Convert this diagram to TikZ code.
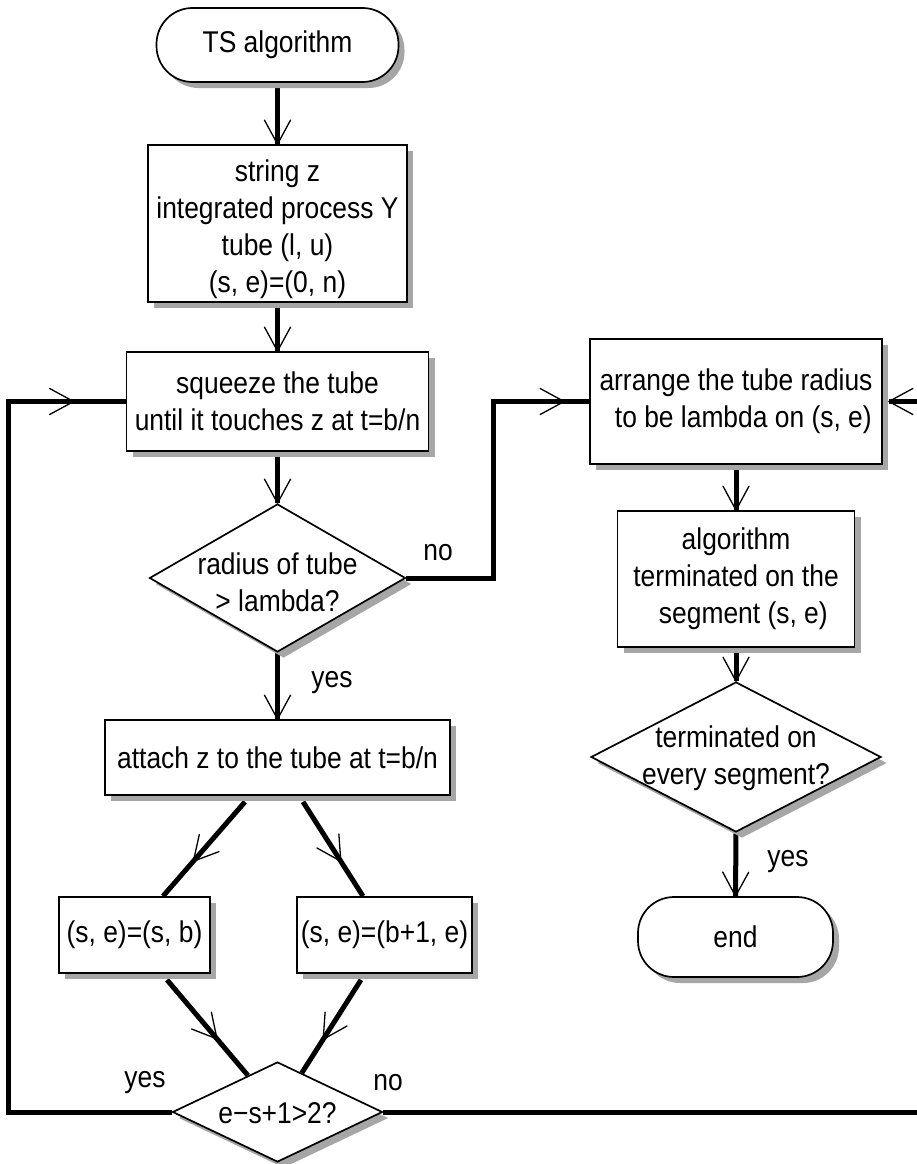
\documentclass[tikz,border=0pt]{standalone}
\usepackage{fontspec}
\setmainfont{Liberation Sans}[FakeStretch=0.88]
\usetikzlibrary{shapes.geometric,shadows,decorations.markings,calc}
\pgfdeclarelayer{background}
\pgfsetlayers{background,main}
\tikzset{
  shade box/.style={drop shadow={shadow xshift=6pt,shadow yshift=-6pt,fill=black!35,opacity=1}},
  procbox/.style={draw,line width=1.7pt,fill=white,rectangle,inner sep=0pt,align=center,shade box},
  termbox/.style={procbox,rounded corners=36pt},
  decbox/.style={draw,line width=1.7pt,fill=white,diamond,inner sep=0pt,shade box},
  lbl/.style={inner sep=0pt,align=center},
  flow/.style={line width=5pt},
  tip at/.style={postaction={decorate},decoration={markings,
    mark=at position #1 with {\draw[line width=1.3pt,line cap=round,line join=round]
      (-24pt,13pt) -- (0pt,0pt) -- (-24pt,-13pt);}}},
}
\begin{document}
\begin{tikzpicture}[x=1pt,y=-1pt,font=\fontsize{30pt}{37pt}\selectfont]
\useasboundingbox (0,0) rectangle (917,1164);

% left column
\node[termbox,minimum width=242pt,minimum height=74pt] (start) at (277.5,45) {TS algorithm};
\node[procbox,minimum width=259pt,minimum height=157pt] (init) at (277.5,223.5) {};
\node[lbl] (initt) at (277.5,229) {string z\\integrated process Y\\tube (l, u)\\(s, e)=(0, n)};
\node[procbox,minimum width=302pt,minimum height=99pt] (squeeze) at (277.5,401.5)
  {squeeze the tube\\until it touches z at t=b/n};
\node[decbox,minimum width=256pt,minimum height=148pt] (radius) at (277.5,578) {};
\node[lbl] (radiust) at (277.5,582) {radius of tube\\> lambda?};
\node[procbox,minimum width=345pt,minimum height=75pt] (attach) at (277.5,757.5)
  {attach z to the tube at t=b/n};
\node[procbox,minimum width=151pt,minimum height=76pt] (left) at (134.5,935) {(s, e)=(s, b)};
\node[procbox,minimum width=175pt,minimum height=76pt] (right) at (384.5,935) {(s, e)=(b+1, e)};
\node[decbox,minimum width=210pt,minimum height=100pt] (len) at (277.5,1112) {};
\node[lbl] (lent) at (277.5,1113) {e−s+1>2?};

% right column
\node[procbox,minimum width=292pt,minimum height=125pt] (arrange) at (736,401.5)
  {arrange the tube radius\\\ \ to be lambda on (s, e)};
\node[procbox,minimum width=237pt,minimum height=136pt] (term) at (736,579)
  {algorithm\hspace{18pt}\\terminated on the\\\ \ segment (s, e)};
\node[decbox,minimum width=290pt,minimum height=150pt] (every) at (736,757) {};
\node[lbl] (everyt) at (736,758.5) {terminated on\\every segment?};
\node[termbox,minimum width=195pt,minimum height=80pt] (end) at (735.5,937) {end};

% branch labels
\node[lbl] (no1) at (438,553) {no};
\node[lbl] (yes1) at (332,683) {yes};
\node[lbl] (yes2) at (788,862) {yes};
\node[lbl] (yes3) at (145,1083) {yes};
\node[lbl] (no2) at (388,1083) {no};

% connectors
\begin{pgfonlayer}{background}
\fill[white] (0,0) rectangle (917,1164);
\clip (0,0) rectangle (917,1164);
\draw[flow,tip at=1] (start.south) -- (init.north);
\draw[flow,tip at=1] (init.south) -- (squeeze.north);
\draw[flow,tip at=1] (squeeze.south) -- (radius.north);
\draw[flow,tip at=1] (radius.south) -- (attach.north);
\draw[flow,tip at=-25pt] (radius.east) -- ++(87,0) |- (arrange.west);
\draw[flow,tip at=1] (arrange.south) -- (term.north);
\draw[flow,tip at=1] (term.south) -- (every.north);
\draw[flow,tip at=1] (every.south) -- (end.north);
\draw[flow,tip at=0.63] ($(attach.south)+(-32.5,6)$) -- ($(left.north)+(28.5,0)$);
\draw[flow,tip at=0.63] ($(attach.south)+(25.5,6)$) -- ($(right.north)+(-21.5,0)$);
\draw[flow,tip at=0.62] ($(left.south)+(32.5,6)$) -- ($(len.north)!0.28!(len.west)$);
\draw[flow,tip at=0.64] ($(right.south)+(-23.5,6)$) -- ($(len.north)!0.23!(len.east)$);
\draw[flow,tip at=-52pt] (len.west) -| ($(squeeze.west)+(-117,0)$) -- (squeeze.west);
\draw[flow,tip at=1] (len.east) -| ($(arrange.east)+(50,0)$) -- ($(arrange.east)+(6,0)$);
\end{pgfonlayer}
\end{tikzpicture}
\end{document}
